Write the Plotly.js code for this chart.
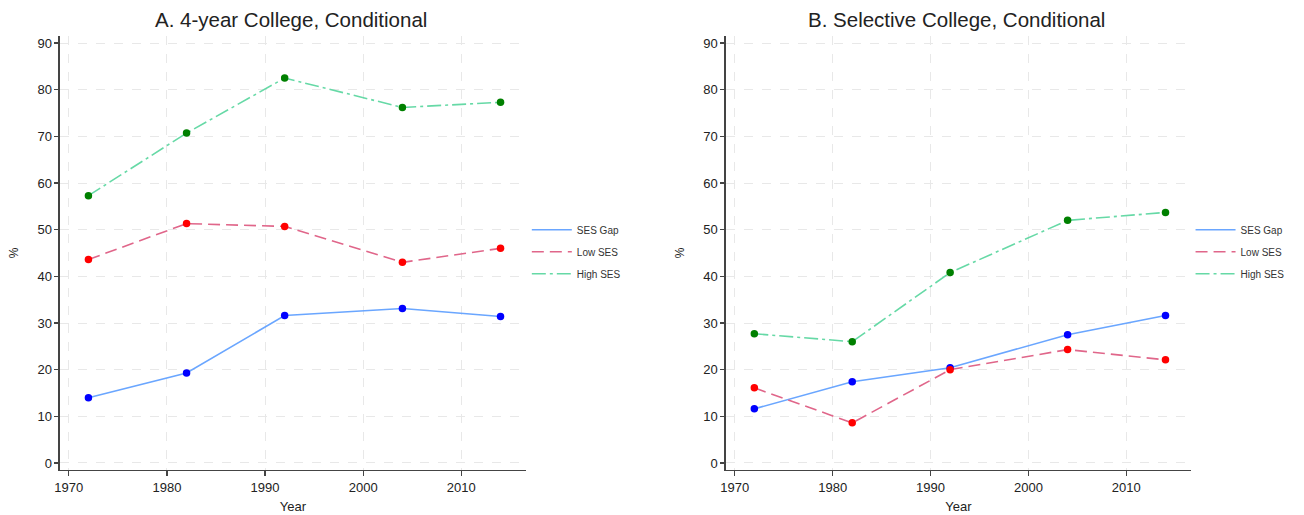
<!DOCTYPE html>
<html>
<head>
<meta charset="utf-8">
<script src="https://cdn.plot.ly/plotly-3.0.1.min.js"></script>
<style>html,body{margin:0;padding:0;background:#fff;}#chart{width:1304px;height:515px;}</style>
</head>
<body>
<div id="chart"></div>
<script>
const years = [1972, 1982, 1992, 2004, 2014];
// Panel A: 4-year College, Conditional
const fourYearGap  = [14.0, 19.3, 31.6, 33.1, 31.4];
const fourYearLow  = [43.6, 51.3, 50.7, 43.0, 46.0];
const fourYearHigh = [57.3, 70.7, 82.5, 76.2, 77.3];
// Panel B: Selective College, Conditional
const selectiveGap  = [11.6, 17.4, 20.4, 27.5, 31.6];
const selectiveLow  = [16.1, 8.6, 20.0, 24.3, 22.1];
const selectiveHigh = [27.7, 26.0, 40.8, 52.0, 53.7];
const seriesNames = ["SES Gap", "Low SES", "High SES"];
const panelTitles = ["A. 4-year College, Conditional", "B. Selective College, Conditional"];
const xTicks = [1970, 1980, 1990, 2000, 2010];
const yTicks = [0, 10, 20, 30, 40, 50, 60, 70, 80, 90];

const lineColors = ["#6aa6ff", "#e0668a", "#66d9a6"];
const markerColors = ["#0000ff", "#ff0000", "#008000"];
const dashes = ["solid", "12px,6px", "14px,4px,3px,4px"];

function makeTraces(vals, xa, ya, leg) {
  const out = [];
  vals.forEach((v, i) => {
    out.push({
      x: years, y: v, type: "scatter", mode: "lines",
      name: seriesNames[i], xaxis: xa, yaxis: ya, legend: leg,
      legendgroup: leg + i,
      line: {color: lineColors[i], width: 1.6, dash: dashes[i]}
    });
  });
  vals.forEach((v, i) => {
    out.push({
      x: years, y: v, type: "scatter", mode: "markers",
      name: seriesNames[i], xaxis: xa, yaxis: ya, showlegend: false,
      marker: {color: markerColors[i], size: 7.5, symbol: "circle"}
    });
  });
  return out;
}

const data = [
  ...makeTraces([fourYearGap, fourYearLow, fourYearHigh], "x", "y", "legend"),
  ...makeTraces([selectiveGap, selectiveLow, selectiveHigh], "x2", "y2", "legend2")
];

const fontFam = "Liberation Sans, Arial, sans-serif";
function xAxis(domain, anchor) {
  return {
    domain: domain, anchor: anchor, range: [1969.1, 2016.6],
    tickvals: xTicks, ticks: "outside", ticklen: 5, tickcolor: "#444", tickwidth: 1.2,
    showline: true, linecolor: "#444", linewidth: 1.5,
    showgrid: true, gridcolor: "#e8e8e8", griddash: "dash", gridwidth: 1,
    zeroline: false, tickfont: {family: fontFam, size: 13, color: "#222"},
    title: {text: "Year", font: {family: fontFam, size: 13, color: "#222"}, standoff: 8}
  };
}
function yAxis(domain, anchor) {
  return {
    domain: domain, anchor: anchor, range: [-1.5, 91.5],
    tickvals: yTicks, ticks: "outside", ticklen: 4, tickcolor: "#444", tickwidth: 1.2,
    showline: true, linecolor: "#444", linewidth: 1.5,
    showgrid: true, gridcolor: "#e8e8e8", griddash: "dash", gridwidth: 1,
    zeroline: false, tickfont: {family: fontFam, size: 13, color: "#222"},
    title: {text: "%", font: {family: fontFam, size: 12, color: "#222"}, standoff: 16}
  };
}

const legendStyle = (x) => ({
  x: x, y: 0.582, xanchor: "left", yanchor: "top",
  font: {family: fontFam, size: 10, color: "#333"},
  bgcolor: "rgba(0,0,0,0)", tracegroupgap: 3, itemwidth: 40
});

const yDom = [0.0874, 0.930];
const layout = {
  width: 1304, height: 515,
  margin: {l: 0, r: 0, t: 0, b: 0},
  paper_bgcolor: "#fff", plot_bgcolor: "#fff",
  showlegend: true,
  xaxis: xAxis([0.0460, 0.4034], "y"),
  yaxis: yAxis(yDom, "x"),
  xaxis2: xAxis([0.5567, 0.9133], "y2"),
  yaxis2: yAxis(yDom, "x2"),
  legend: legendStyle(0.404),
  legend2: legendStyle(0.913),
  annotations: [
    {text: panelTitles[0], x: 0.2232, y: 1 - 20/515, xref: "paper", yref: "paper", showarrow: false,
     xanchor: "center", yanchor: "middle", font: {family: fontFam, size: 20.5, color: "#222"}},
    {text: panelTitles[1], x: 0.7335, y: 1 - 20/515, xref: "paper", yref: "paper", showarrow: false,
     xanchor: "center", yanchor: "middle", font: {family: fontFam, size: 20.5, color: "#222"}}
  ]
};

Plotly.newPlot("chart", data, layout, {displayModeBar: false, staticPlot: true});
</script>
</body>
</html>
